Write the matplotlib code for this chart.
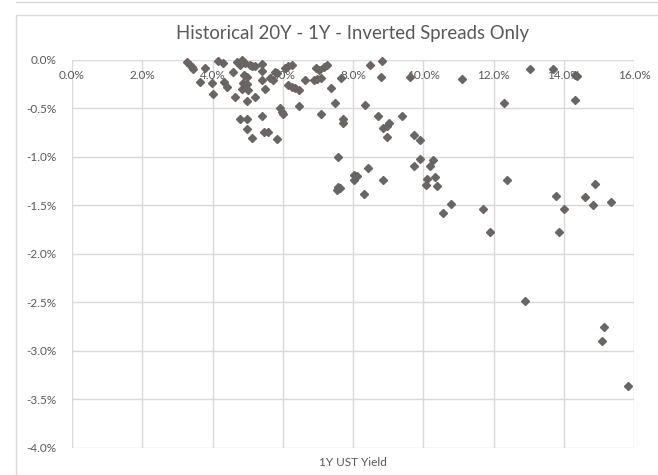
import matplotlib
matplotlib.use("Agg")
import matplotlib.pyplot as plt
from matplotlib.patches import Rectangle
from matplotlib.ticker import FuncFormatter

# 1Y UST yield (%) and 20Y - 1Y spread (%), inverted periods only
one_year_yield = [
    3.26, 3.36, 3.41, 3.45, 3.79, 3.64, 3.98, 4.02, 4.15, 4.31,
    4.34, 4.41, 4.59, 4.64, 4.69, 4.83, 4.93, 5.07, 4.78, 4.90,
    4.98, 4.88, 4.99, 4.93, 5.02, 4.83, 4.98, 5.21, 5.12, 5.21,
    5.40, 5.40, 5.40, 5.50, 5.64, 5.73, 5.77, 5.85, 6.07, 6.16,
    6.26, 6.16, 6.26, 6.35, 6.45, 6.64, 6.88, 6.97, 7.08, 6.95,
    7.04, 7.17, 7.26, 7.38, 7.67, 7.50, 6.45, 5.93, 5.97, 6.02,
    7.10, 4.77, 4.98, 4.98, 5.12, 5.41, 5.47, 5.57, 5.83, 7.57,
    7.72, 7.71, 8.35, 8.47, 8.83, 8.79, 9.63, 11.11, 8.70, 9.40,
    8.86, 8.96, 9.02, 8.98, 9.73, 9.90, 8.02, 8.11, 8.02, 8.44,
    8.86, 9.73, 9.92, 10.18, 10.28, 10.11, 10.33, 10.08, 10.40, 7.56,
    7.62, 7.54, 8.30, 10.80, 10.57, 11.69, 11.89, 13.04, 13.68, 14.32,
    14.39, 12.30, 14.31, 12.39, 13.79, 14.01, 13.87, 14.60, 14.88, 14.83,
    15.35, 12.90, 15.14, 15.09, 15.82,
]
spread_20y_1y = [
    -0.02, -0.055, -0.08, -0.10, -0.09, -0.23, -0.24, -0.35, -0.01, -0.03,
    -0.23, -0.28, -0.13, -0.38, -0.02, -0.003, -0.03, -0.05, -0.055, -0.16,
    -0.175, -0.24, -0.25, -0.28, -0.31, -0.30, -0.43, -0.38, -0.07, -0.07,
    -0.04, -0.12, -0.21, -0.30, -0.19, -0.21, -0.13, -0.14, -0.09, -0.07,
    -0.05, -0.26, -0.28, -0.29, -0.31, -0.21, -0.21, -0.20, -0.19, -0.09,
    -0.11, -0.075, -0.055, -0.29, -0.19, -0.45, -0.48, -0.50, -0.54, -0.56,
    -0.56, -0.61, -0.61, -0.71, -0.81, -0.58, -0.74, -0.74, -0.82, -1.00,
    -0.61, -0.65, -0.47, -0.05, -0.013, -0.18, -0.18, -0.20, -0.58, -0.58,
    -0.70, -0.68, -0.655, -0.80, -0.78, -0.83, -1.19, -1.20, -1.24, -1.12,
    -1.24, -1.09, -1.02, -1.10, -1.03, -1.23, -1.21, -1.29, -1.30, -1.31,
    -1.32, -1.34, -1.38, -1.49, -1.58, -1.54, -1.78, -0.10, -0.10, -0.16,
    -0.17, -0.45, -0.415, -1.24, -1.40, -1.54, -1.77, -1.41, -1.28, -1.50,
    -1.47, -2.49, -2.75, -2.90, -3.36,
]

x_ticks = [0, 2, 4, 6, 8, 10, 12, 14, 16]
y_ticks = [0.0, -0.5, -1.0, -1.5, -2.0, -2.5, -3.0, -3.5, -4.0]

plt.rcParams["font.family"] = ["Lato", "DejaVu Sans"]
text_color = "#595959"
grid_color = "#d9d9d9"

W, H = 658, 475
fig = plt.figure(figsize=(W / 100, H / 100), dpi=100)

# chart frame (Excel-style)
fig.patches.append(Rectangle((16 / W, -0.1), 1.2, 1 - 15 / H + 0.1,
                             transform=fig.transFigure, fill=False,
                             edgecolor="#d9d9d9", linewidth=1))
fig.lines.append(plt.Line2D([16 / W, 1], [1 - 2 / H, 1 - 2 / H],
                            transform=fig.transFigure, color="#d9d9d9", linewidth=1))

left, right, top, bottom = 72, 634, 59.7, 448
ax = fig.add_axes([left / W, 1 - bottom / H, (right - left) / W, (bottom - top) / H])

ax.plot(one_year_yield, spread_20y_1y, linestyle="none", marker="D",
        markersize=4.2, color="#6a6463", clip_on=False, zorder=3)

ax.set_xlim(0, 16)
ax.set_ylim(-4, 0)
ax.set_xticks(x_ticks)
ax.set_yticks(y_ticks)
pct = FuncFormatter(lambda v, _: f"{v:.1f}%")
ax.xaxis.set_major_formatter(pct)
ax.yaxis.set_major_formatter(pct)

for s in ax.spines.values():
    s.set_visible(False)
ax.grid(True, color=grid_color, linewidth=1)
ax.set_axisbelow(True)

ax.xaxis.set_ticks_position("top")
ax.tick_params(axis="x", length=0, labeltop=True, labelbottom=False,
               pad=-15, labelsize=8.5, labelcolor=text_color)
ax.tick_params(axis="y", length=0, pad=11, labelsize=8.5, labelcolor=text_color)

fig.text(353 / W, 1 - 33 / H, "Historical 20Y - 1Y - Inverted Spreads Only",
         ha="center", va="center", fontsize=13.4, color=text_color)
fig.text(353 / W, 1 - 463 / H, "1Y UST Yield",
         ha="center", va="center", fontsize=8.5, color=text_color)

fig.savefig("out.png", dpi=100)
